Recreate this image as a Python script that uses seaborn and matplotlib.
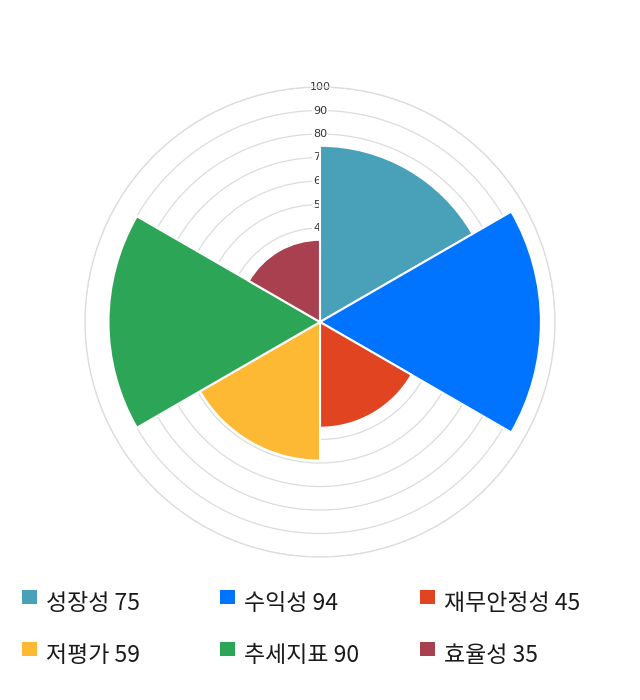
import numpy as np
import seaborn as sns
import matplotlib.pyplot as plt
from matplotlib.patches import Rectangle

categories = ['성장성', '수익성', '재무안정성', '저평가', '추세지표', '효율성']
values = [75, 94, 45, 59, 90, 35]
colors = ['#48a0b9', '#0074fe', '#e14421', '#fdb933', '#2ca656', '#a8404f']
ticks = [10, 20, 30, 40, 50, 60, 70, 80, 90, 100]

sns.set_theme(style='white')
plt.rcParams['font.family'] = ['Noto Sans CJK KR', 'DejaVu Sans']

fig = plt.figure(figsize=(6.4, 7), dpi=100)
ax = fig.add_axes([85 / 640, 1 - 557 / 700, 470 / 640, 470 / 700], projection='polar')
ax.set_theta_zero_location('N')
ax.set_theta_direction(-1)

n = len(values)
width = 2 * np.pi / n
theta = np.arange(n) * width + width / 2
ax.bar(theta, values, width=width, color=colors, edgecolor='white', linewidth=1.5, zorder=3)

ax.set_ylim(0, 100)
ax.set_yticks(ticks)
ax.set_yticklabels([])
ax.set_xticks([])
ax.yaxis.grid(True, color='#dcdcdc', linewidth=0.9, zorder=0)
ax.xaxis.grid(False)
ax.spines['polar'].set_color('#dcdcdc')
ax.spines['polar'].set_linewidth(0.9)
ax.set_facecolor('white')

for t in ticks:
    ax.text(0, t, str(t), ha='center', va='center', fontsize=8, color='#333333',
            family='DejaVu Sans', zorder=1,
            bbox=dict(boxstyle='square,pad=0.1', facecolor='white', edgecolor='none'))

# legend
col_x = [22, 220, 420]
row_y = [603, 655]
for i, (c, v, col) in enumerate(zip(categories, values, colors)):
    x = col_x[i % 3]
    y = row_y[i // 3]
    fig.add_artist(Rectangle((x / 640, 1 - (y + 1) / 700), 15 / 640, 14 / 700,
                             transform=fig.transFigure, facecolor=col, edgecolor='none'))
    fig.text((x + 24) / 640, 1 - y / 700, f'{c} {v}', fontsize=16.5, color='#1a1a1a',
             ha='left', va='center')

fig.savefig('out.png', dpi=100)
